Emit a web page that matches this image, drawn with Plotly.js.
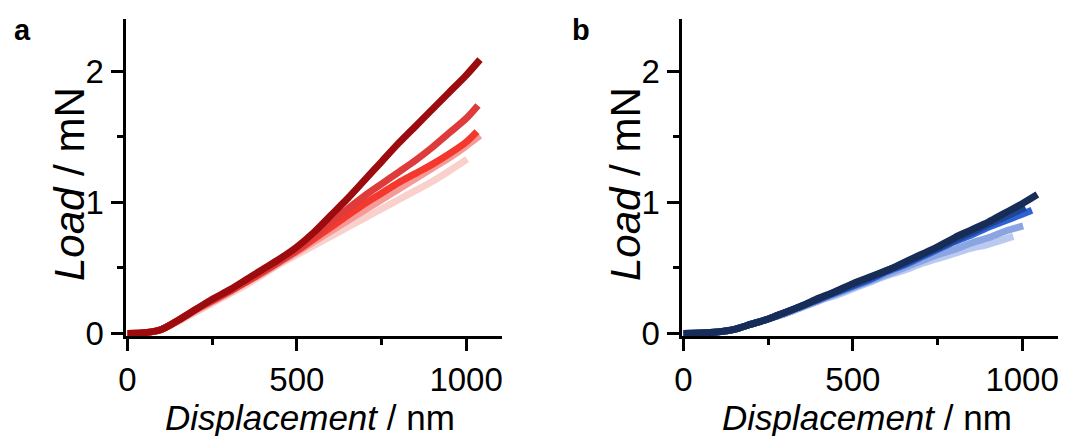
<!DOCTYPE html>
<html>
<head>
<meta charset="utf-8">
<script src="https://cdn.plot.ly/plotly-3.0.1.min.js"></script>
<style>
html,body{margin:0;padding:0;background:#fff;}
#chart{width:1070px;height:436px;}
</style>
</head>
<body>
<div id="chart"></div>
<script>
// ---- Panel a (red) ----
const a1_x = [0,50,100,150,200,250,300,350,400,450,500,550,600,650,700,750,800,850,900,950,1000,1041];
const a1_y = [0,0.005,0.03,0.10,0.18,0.26,0.33,0.41,0.49,0.57,0.66,0.77,0.90,1.03,1.17,1.31,1.45,1.58,1.71,1.84,1.97,2.09];
const a2_x = [0,50,100,150,200,250,300,350,400,450,500,550,600,650,700,750,800,850,900,950,1000,1035];
const a2_y = [0,0.005,0.03,0.10,0.18,0.25,0.32,0.40,0.47,0.55,0.64,0.74,0.85,0.95,1.05,1.14,1.23,1.32,1.42,1.53,1.64,1.74];
const a3_x = [0,50,100,150,200,250,300,350,400,450,500,550,600,650,700,750,800,850,900,950,1000,1032];
const a3_y = [0,0.005,0.03,0.10,0.18,0.25,0.32,0.39,0.47,0.55,0.63,0.72,0.81,0.90,0.99,1.07,1.15,1.22,1.29,1.37,1.46,1.54];
const a4_x = [0,50,100,150,200,250,300,350,400,450,500,550,600,650,700,750,800,850,900,950,1000,1041];
const a4_y = [0,0.005,0.03,0.10,0.17,0.24,0.31,0.39,0.46,0.54,0.62,0.70,0.78,0.86,0.94,1.02,1.10,1.18,1.26,1.34,1.43,1.51];
const a5_x = [0,50,100,150,200,250,300,350,400,450,500,550,600,650,700,750,800,850,900,950,1003];
const a5_y = [0,0.005,0.03,0.09,0.16,0.23,0.30,0.37,0.45,0.53,0.60,0.67,0.74,0.81,0.88,0.95,1.02,1.09,1.16,1.24,1.33];

// ---- Panel b (blue) ----
const b1_x = [0,50,100,150,200,250,300,350,400,450,500,550,600,650,700,750,800,850,900,950,1000,1045];
const b1_y = [0,0.002,0.01,0.03,0.07,0.11,0.16,0.21,0.27,0.32,0.38,0.43,0.48,0.54,0.60,0.66,0.73,0.79,0.85,0.92,0.99,1.06];
const b2_x = [0,50,100,150,200,250,300,350,400,450,500,550,600,650,700,750,800,850,900,950,1010];
const b2_y = [0,0.002,0.01,0.03,0.07,0.11,0.16,0.21,0.26,0.32,0.37,0.42,0.48,0.53,0.59,0.65,0.71,0.77,0.83,0.89,0.96];
const b3_x = [0,50,100,150,200,250,300,350,400,450,500,550,600,650,700,750,800,850,900,950,1000,1029];
const b3_y = [0,0.002,0.01,0.03,0.07,0.11,0.16,0.21,0.26,0.31,0.36,0.41,0.47,0.52,0.58,0.64,0.70,0.75,0.81,0.86,0.91,0.94];
const b4_x = [0,50,100,150,200,250,300,350,400,450,500,550,600,650,700,750,800,850,900,950,1003];
const b4_y = [0,0.002,0.01,0.03,0.07,0.11,0.15,0.20,0.25,0.30,0.35,0.40,0.45,0.50,0.55,0.60,0.64,0.69,0.73,0.78,0.82];
const b5_x = [0,50,100,150,200,250,300,350,400,450,500,550,600,650,700,750,800,850,900,974];
const b5_y = [0,0.002,0.01,0.03,0.07,0.11,0.15,0.20,0.25,0.29,0.34,0.39,0.44,0.48,0.53,0.57,0.61,0.65,0.68,0.74];

const xTickVals = [0, 500, 1000];
const xTickText = ['0', '500', '1000'];
const yTickVals = [0, 1, 2];
const yTickText = ['0', '1', '2'];

const xTitle = '<i>Displacement</i> / nm';
const yTitle = '<i>Load</i> / mN';

function tr(x, y, color, xa, ya) {
  return {x: x, y: y, type: 'scatter', mode: 'lines', xaxis: xa, yaxis: ya,
          line: {color: color, width: 7, shape: 'spline', smoothing: 0.8}, hoverinfo: 'skip', showlegend: false};
}

const data = [
  tr(a5_x, a5_y, '#FAD0CD', 'x', 'y'),
  tr(a4_x, a4_y, '#F59A96', 'x', 'y'),
  tr(a3_x, a3_y, '#F4382D', 'x', 'y'),
  tr(a2_x, a2_y, '#DE3B3B', 'x', 'y'),
  tr(a1_x, a1_y, '#9C0B0E', 'x', 'y'),
  tr(b5_x, b5_y, '#B9C9F0', 'x2', 'y2'),
  tr(b4_x, b4_y, '#8AA5E2', 'x2', 'y2'),
  tr(b3_x, b3_y, '#2E63D6', 'x2', 'y2'),
  tr(b2_x, b2_y, '#1F4594', 'x2', 'y2'),
  tr(b1_x, b1_y, '#172D58', 'x2', 'y2')
];

const tickFont = {family: 'Liberation Sans, Arial, sans-serif', size: 33, color: '#000'};
const xTitleFont = {family: 'Liberation Sans, Arial, sans-serif', size: 35, color: '#000'};
const yTitleFont = {family: 'Liberation Sans, Arial, sans-serif', size: 42, color: '#000'};

function xax(dom, anchor) {
  return {domain: dom, anchor: anchor, range: [-6, 1106], showgrid: false, zeroline: false,
    showline: true, linecolor: '#000', linewidth: 3, mirror: false,
    ticks: 'outside', ticklen: 12, tickwidth: 3, tickcolor: '#000',
    tickvals: xTickVals, ticktext: xTickText, tickfont: tickFont,
    minor: {ticks: 'outside', ticklen: 6, tickwidth: 3, tickcolor: '#000', dtick: 250, tick0: 0, showgrid: false},
    fixedrange: true};
}
function yax(dom, anchor) {
  return {domain: dom, anchor: anchor, range: [-0.02, 2.40], showgrid: false, zeroline: false,
    showline: true, linecolor: '#000', linewidth: 3, mirror: false,
    ticks: 'outside', ticklen: 12, tickwidth: 3, tickcolor: '#000',
    tickvals: yTickVals, ticktext: yTickText, tickfont: tickFont,
    minor: {ticks: 'outside', ticklen: 6, tickwidth: 3, tickcolor: '#000', dtick: 0.5, tick0: 0, showgrid: false},
    fixedrange: true};
}

const W = 1070, H = 436;
const yDom = [(H - 336) / H, (H - 19) / H];

const layout = {
  width: W, height: H,
  margin: {l: 0, r: 0, t: 0, b: 0},
  paper_bgcolor: '#fff', plot_bgcolor: '#fff',
  showlegend: false,
  xaxis: xax([125.5 / W, 502 / W], 'y'),
  yaxis: yax(yDom, 'x'),
  xaxis2: xax([681.5 / W, 1058 / W], 'y2'),
  yaxis2: yax(yDom, 'x2'),
  annotations: [
    {text: '<b>a</b>', x: 12 / W, y: 1 - 12 / H, xref: 'paper', yref: 'paper', xanchor: 'left', yanchor: 'top',
     showarrow: false, font: {family: 'Liberation Sans, Arial, sans-serif', size: 29, color: '#000'}},
    {text: '<b>b</b>', x: 570 / W, y: 1 - 12 / H, xref: 'paper', yref: 'paper', xanchor: 'left', yanchor: 'top',
     showarrow: false, font: {family: 'Liberation Sans, Arial, sans-serif', size: 29, color: '#000'}},
    {text: xTitle, x: 310 / W, y: 0, xref: 'paper', yref: 'paper', xanchor: 'center', yanchor: 'bottom',
     yshift: -3, showarrow: false, font: xTitleFont},
    {text: xTitle, x: 867 / W, y: 0, xref: 'paper', yref: 'paper', xanchor: 'center', yanchor: 'bottom',
     yshift: -3, showarrow: false, font: xTitleFont},
    {text: yTitle, x: 69 / W, y: 1 - 184 / H, xref: 'paper', yref: 'paper', xanchor: 'center', yanchor: 'middle',
     textangle: -90, showarrow: false, font: yTitleFont},
    {text: yTitle, x: 625 / W, y: 1 - 184 / H, xref: 'paper', yref: 'paper', xanchor: 'center', yanchor: 'middle',
     textangle: -90, showarrow: false, font: yTitleFont}
  ]
};

Plotly.newPlot('chart', data, layout, {displayModeBar: false, staticPlot: true});
</script>
</body>
</html>
